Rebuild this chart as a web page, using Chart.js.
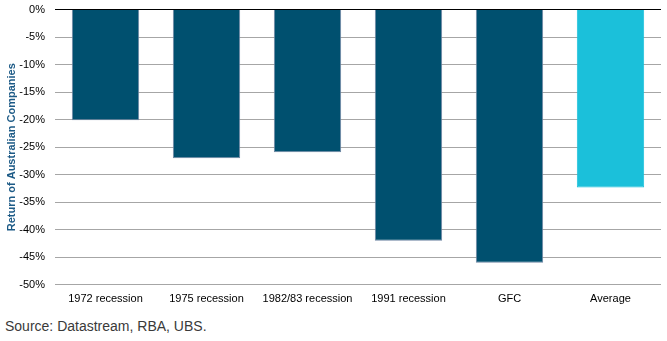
<!DOCTYPE html>
<html>
<head>
<meta charset="utf-8">
<script src="https://cdn.jsdelivr.net/npm/chart.js@4/dist/chart.umd.min.js"></script>
<style>
  body { margin: 0; background: #fff; font-family: "Liberation Sans", Arial, sans-serif; overflow: hidden; }
  #wrap { position: absolute; left: 0; top: -7px; width: 667px; height: 321px; }
  #source { position: absolute; left: 5px; top: 318px; font-size: 14px; color: #3a3a3a; }
</style>
</head>
<body>
<div id="wrap"><canvas id="chart"></canvas></div>
<div id="source">Source: Datastream, RBA, UBS.</div>
<script>
var categories = ["1972 recession", "1975 recession", "1982/83 recession", "1991 recession", "GFC", "Average"];
var returns = [-20.1, -27.0, -25.9, -42.0, -46.0, -32.3];
var barColors = ["#00506f", "#00506f", "#00506f", "#00506f", "#00506f", "#1bc0da"];
var edgeColors = ["#6f86a3", "#6f86a3", "#6f86a3", "#6f86a3", "#6f86a3", "#1bc0da"];
var yTicks = [0, -5, -10, -15, -20, -25, -30, -35, -40, -45, -50];

Chart.defaults.font.family = '"Liberation Sans", Arial, sans-serif';
Chart.defaults.color = "#000";

var chart = new Chart(document.getElementById("chart"), {
  type: "bar",
  data: {
    labels: categories,
    datasets: [{
      data: returns,
      backgroundColor: barColors,
      borderColor: edgeColors,
      borderWidth: 1,
      borderSkipped: "start",
      categoryPercentage: 1.0,
      barPercentage: 0.667
    }]
  },
  options: {
    responsive: true,
    maintainAspectRatio: false,
    animation: false,
    layout: { padding: { top: 4, right: 6, left: 5, bottom: 0 } },
    plugins: { legend: { display: false }, tooltip: { enabled: false } },
    scales: {
      x: {
        grid: { display: false, drawTicks: false },
        border: { display: false },
        ticks: { font: { size: 11 }, padding: 8, maxRotation: 0, autoSkip: false }
      },
      y: {
        min: -50,
        max: 0,
        afterBuildTicks: function (axis) {
          axis.ticks = yTicks.map(function (v) { return { value: v }; });
        },
        afterFit: function (axis) { axis.width = 50; },
        grid: {
          drawTicks: false,
          color: function (ctx) { return ctx.tick && ctx.tick.value === 0 ? "#000" : "#a6a6a6"; },
          lineWidth: 1
        },
        border: { display: false },
        ticks: {
          font: { size: 11 },
          padding: 10,
          callback: function (v) { return v + "%"; }
        },
        title: {
          display: true,
          text: "Return of Australian Companies",
          color: "#1c5a86",
          font: { size: 11, weight: "bold" },
          padding: { top: 0, bottom: 4 }
        }
      }
    }
  }
});
</script>
</body>
</html>
